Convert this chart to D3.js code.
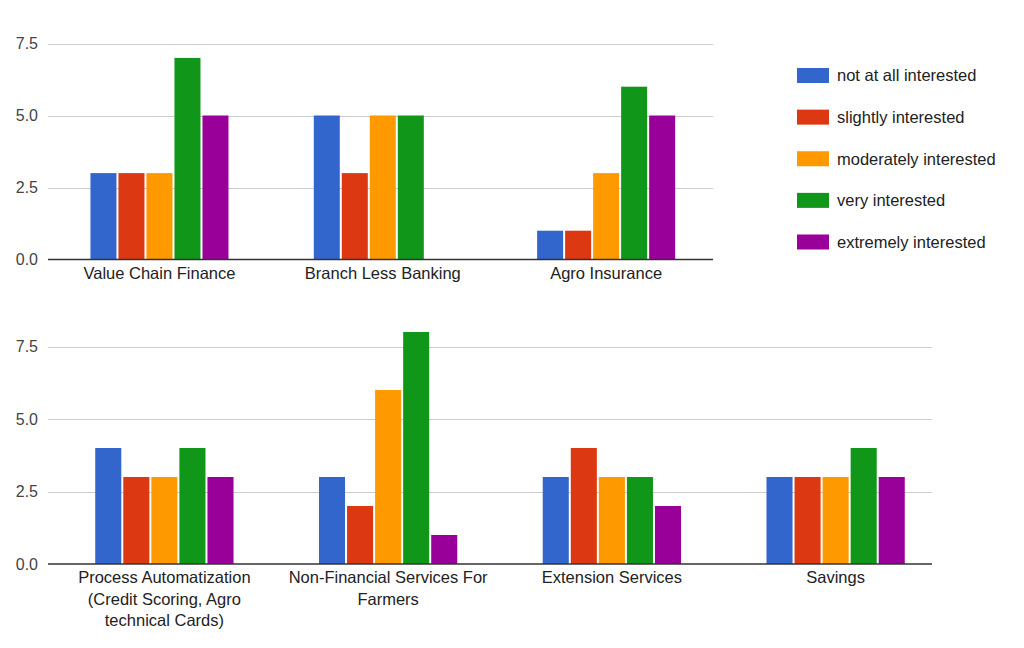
<!DOCTYPE html>
<html><head><meta charset="utf-8">
<script src="https://cdn.jsdelivr.net/npm/d3@7"></script>
<style>body{margin:0;background:#fff}svg{display:block}text{font-family:Arial,"Liberation Sans",sans-serif}</style>
</head><body><svg width="1024" height="648"></svg>
<script>
const series = ["not at all interested","slightly interested","moderately interested","very interested","extremely interested"];
const colors = ["#3366cc","#dc3912","#ff9900","#109618","#990099"];
const topCategories = ["Value Chain Finance","Branch Less Banking","Agro Insurance"];
const topValues = [[3,3,3,7,5],[5,3,5,5,0],[1,1,3,6,5]];
const bottomCategories = [["Process Automatization","(Credit Scoring, Agro","technical Cards)"],["Non-Financial Services For","Farmers"],["Extension Services"],["Savings"]];
const bottomValues = [[4,3,3,4,3],[3,2,6,8,1],[3,4,3,3,2],[3,3,3,4,3]];
const yTicks = [0, 2.5, 5, 7.5];

const svg = d3.select("svg");

function drawChart(cfg){
  const g = svg.append("g");
  const y = d3.scaleLinear().domain([0,7.5]).range([cfg.base, cfg.top]);
  const x = d3.scaleBand().domain(d3.range(cfg.cats.length)).range(cfg.xr).paddingInner(0.373).paddingOuter(0.1865);
  const xs = d3.scaleBand().domain(d3.range(series.length)).range([0, x.bandwidth()]);
  g.selectAll("line.grid").data(yTicks.slice(1)).join("line")
    .attr("x1", cfg.gridX[0]).attr("x2", cfg.gridX[1])
    .attr("y1", d=>Math.round(y(d))+0.5).attr("y2", d=>Math.round(y(d))+0.5)
    .attr("stroke","#cccccc").attr("stroke-width",1);
  g.selectAll("text.yl").data(yTicks).join("text")
    .attr("x", 38).attr("y", d=>y(d)).attr("dy","0.35em")
    .attr("text-anchor","end").attr("font-size",16).attr("fill","#444")
    .text(d=>d3.format(".1f")(d));
  const grp = g.selectAll("g.grp").data(cfg.vals).join("g")
    .attr("transform",(d,i)=>`translate(${x(i)},0)`);
  grp.selectAll("rect").data(d=>d).join("rect")
    .attr("x",(d,j)=>xs(j)).attr("width", xs.bandwidth()-2)
    .attr("y", d=>y(d)).attr("height", d=>y(0)-y(d))
    .attr("fill",(d,j)=>colors[j]);
  g.append("line").attr("x1",cfg.gridX[0]).attr("x2",cfg.gridX[1])
    .attr("y1",y(0)).attr("y2",y(0)).attr("stroke","#333").attr("stroke-width",1.5);
  g.selectAll("text.xl").data(cfg.cats).join("text")
    .attr("x",(d,i)=>x(i)+x.bandwidth()/2-1).attr("y", y(0)+19)
    .attr("text-anchor","middle").attr("font-size",16.5).attr("fill","#222")
    .each(function(d){
      const lines = Array.isArray(d)?d:[d];
      d3.select(this).selectAll("tspan").data(lines).join("tspan")
        .attr("x", d3.select(this).attr("x")).attr("dy",(l,k)=>k===0?0:21.5).text(l=>l);
    });
}

drawChart({cats: topCategories, vals: topValues, base: 259.5, top: 43.5, xr:[48.8,718.8], gridX:[48,713]});
drawChart({cats: bottomCategories, vals: bottomValues, base: 564, top: 346.5, xr:[53.5,948.5], gridX:[48,932]});

const leg = svg.append("g");
const ly = d3.scalePoint().domain(series).range([75.5,242]);
leg.selectAll("rect").data(series).join("rect")
  .attr("x",797).attr("y",d=>ly(d)-7.5).attr("width",32).attr("height",15)
  .attr("fill",(d,i)=>colors[i]);
leg.selectAll("text").data(series).join("text")
  .attr("x",837).attr("y",d=>ly(d)).attr("dy","0.35em")
  .attr("font-size",16.5).attr("fill","#222").text(d=>d);
</script>
</body></html>
